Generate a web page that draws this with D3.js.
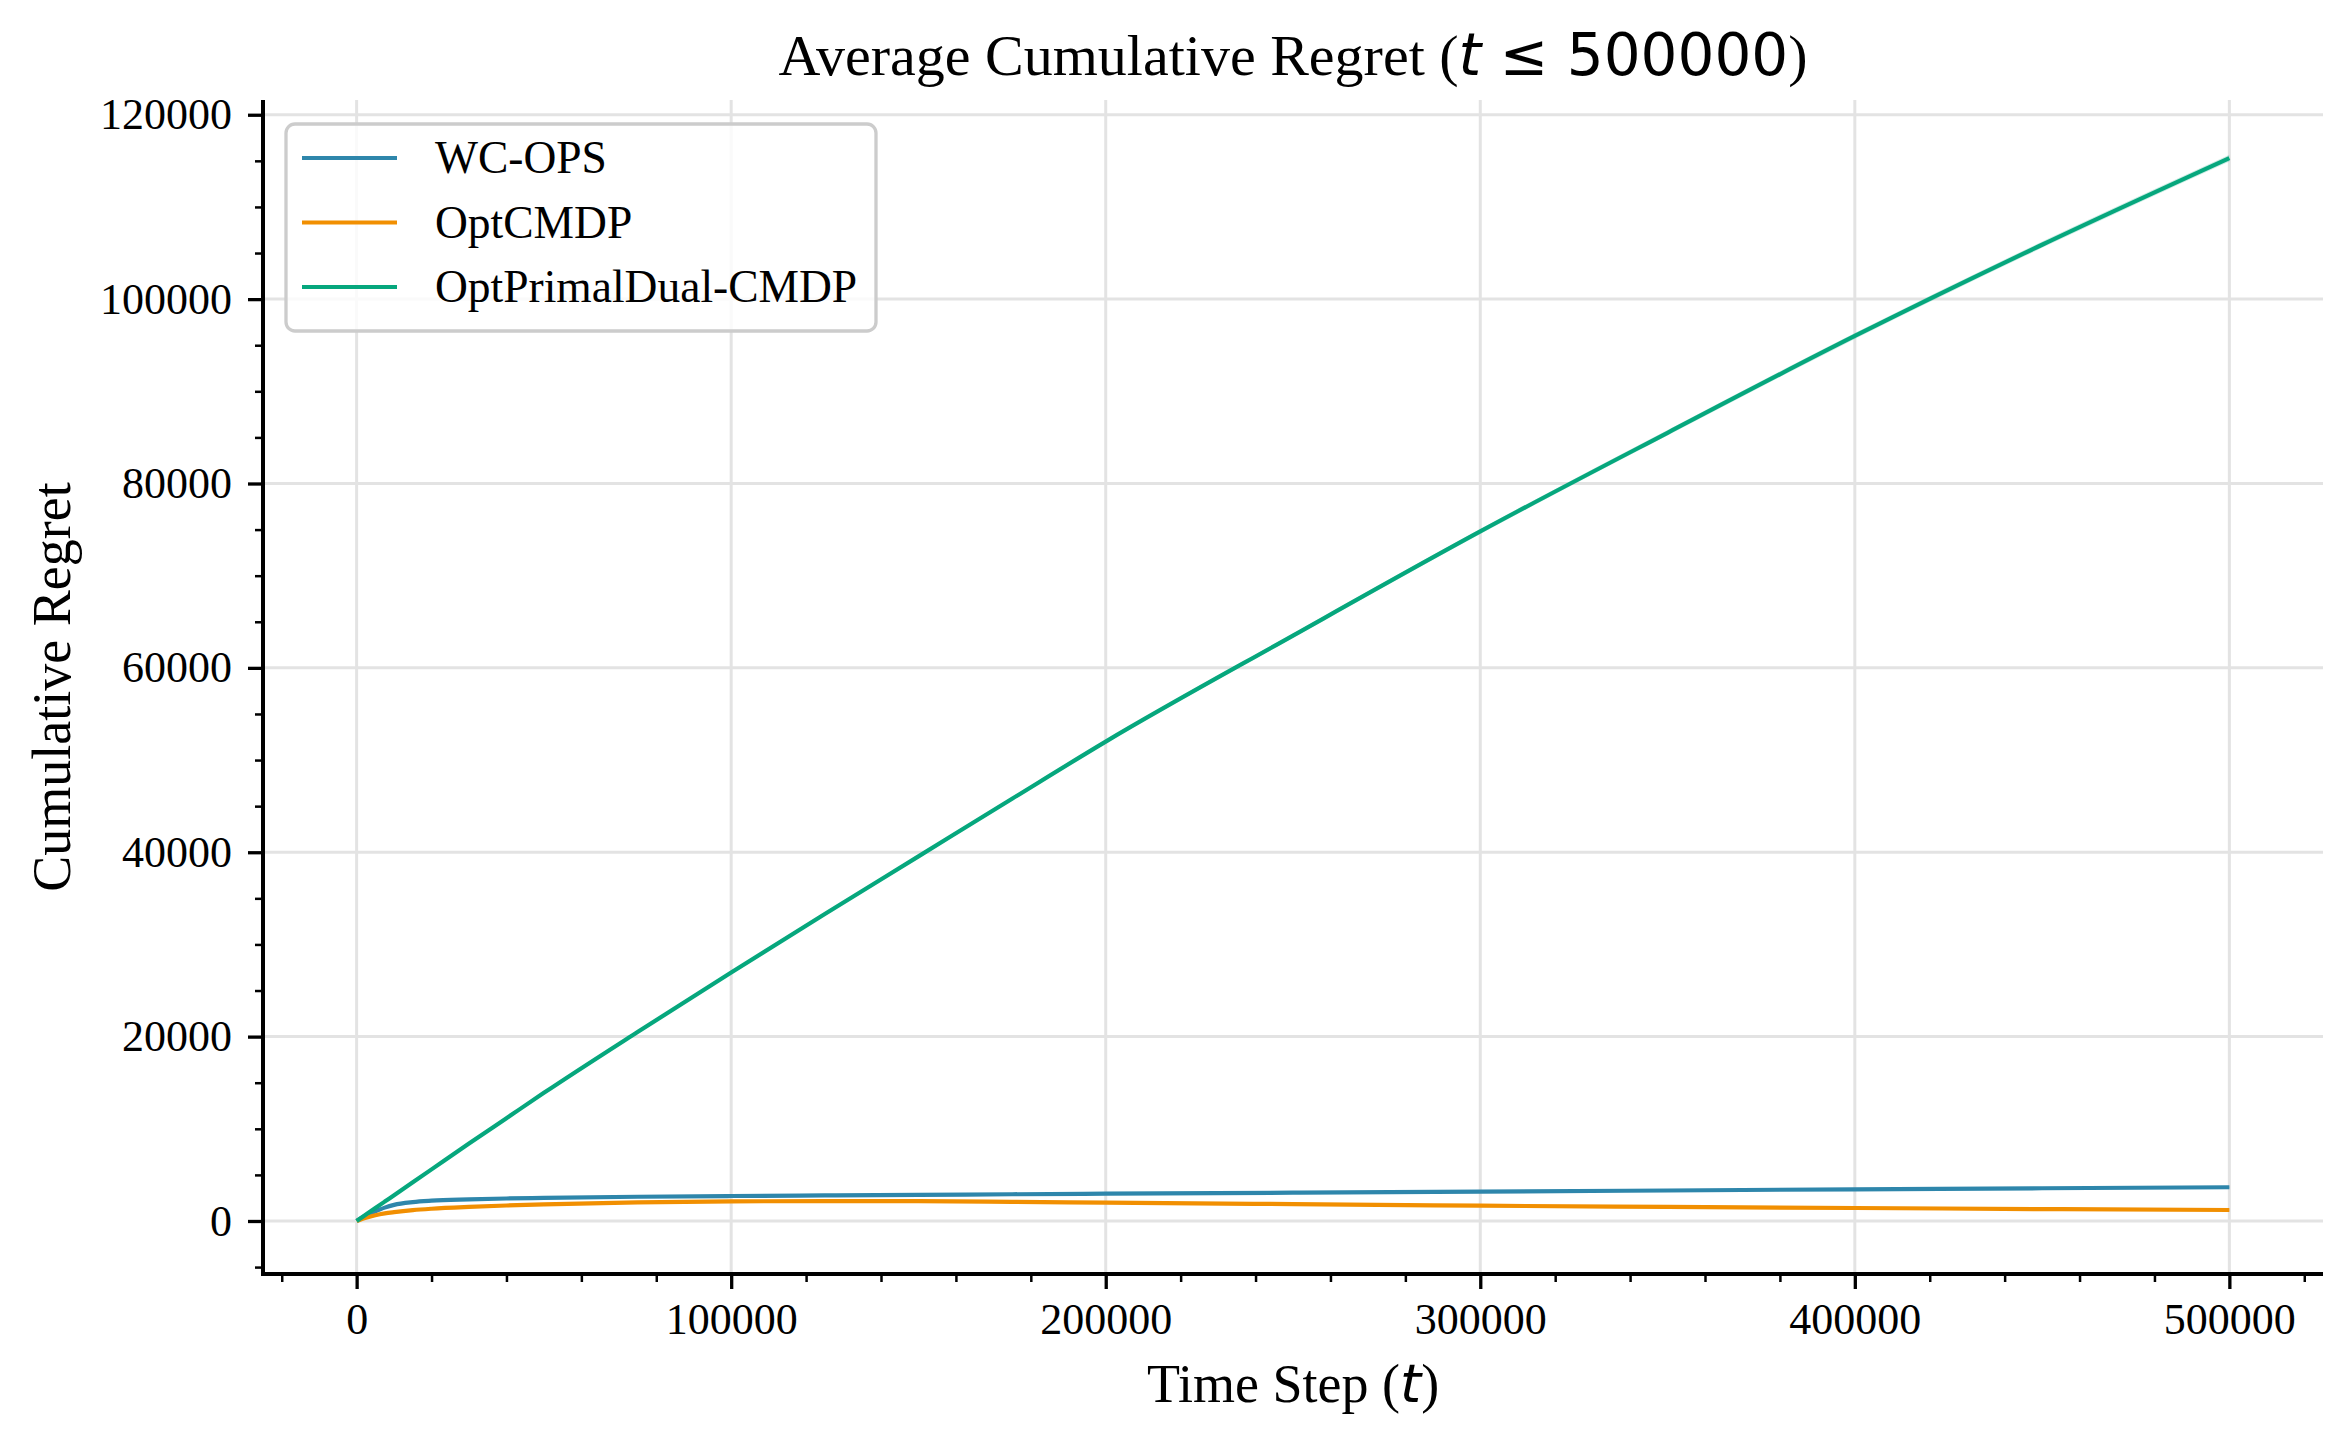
<!DOCTYPE html>
<html>
<head>
<meta charset="utf-8">
<script src="https://cdn.jsdelivr.net/npm/d3@7"></script>
<style>
  body { margin: 0; background: #fff; }
  svg { display: block; }
</style>
</head>
<body>
<svg id="chart" width="2352" height="1446"></svg>
<script>
// time steps shared by every series
const steps = [0, 2500, 5000, 7500, 10000, 15000, 20000, 30000, 40000, 50000, 75000,
  100000, 125000, 150000, 175000, 200000, 250000, 300000, 350000, 400000, 450000, 500000];

// mean cumulative regret
const wcops = [0, 600, 1050, 1450, 1750, 2050, 2200, 2340, 2440, 2510, 2630,
  2710, 2770, 2830, 2900, 2960, 3070, 3180, 3310, 3440, 3550, 3660];
const optcmdp = [0, 350, 620, 820, 960, 1180, 1330, 1530, 1680, 1800, 2020,
  2130, 2160, 2150, 2080, 1990, 1830, 1660, 1530, 1410, 1290, 1190];
const primaldual = [0, 700, 1400, 2100, 2800, 4200, 5600, 8400, 11150, 13900, 20500,
  26950, 33300, 39550, 45800, 52000, 63500, 74800, 85500, 96000, 105900, 115300];

// half width of the shaded band
const wcopsBand = [0, 20, 30, 40, 40, 50, 50, 50, 50, 50, 50, 50, 50, 50, 50, 50, 60, 60, 60, 60, 60, 70];
const optcmdpBand = [0, 20, 30, 40, 40, 50, 50, 50, 50, 50, 50, 50, 50, 50, 50, 50, 60, 60, 60, 60, 60, 70];
const primaldualBand = [0, 10, 20, 30, 40, 50, 60, 80, 100, 110, 130, 150, 170, 190, 200, 210, 240, 270, 300, 320, 340, 360];

const names = ["WC-OPS", "OptCMDP", "OptPrimalDual-CMDP"];
const colors = ["#2E86AB", "#F18F01", "#06A77D"];

const xTicks = [0, 100000, 200000, 300000, 400000, 500000];
const yTicks = [0, 20000, 40000, 60000, 80000, 100000, 120000];

const series = [
  { name: names[0], color: colors[0], mean: wcops, band: wcopsBand },
  { name: names[1], color: colors[1], mean: optcmdp, band: optcmdpBand },
  { name: names[2], color: colors[2], mean: primaldual, band: primaldualBand }
];

const svg = d3.select("#chart");
const pLeft = 263, pRight = 2323, pTop = 100, pBottom = 1274;
const serif = "'Liberation Serif', 'Times New Roman', serif";

const x = d3.scaleLinear().domain([-25000, 525000]).range([pLeft, pRight]);
const y = d3.scaleLinear().domain([-5750, 121600]).range([pBottom, pTop]);

// grid
const grid = svg.append("g").attr("stroke", "#e3e3e3").attr("stroke-width", 3);
xTicks.forEach(t => grid.append("line")
  .attr("x1", x(t)).attr("x2", x(t)).attr("y1", pTop).attr("y2", pBottom));
yTicks.forEach(t => grid.append("line")
  .attr("x1", pLeft).attr("x2", pRight).attr("y1", y(t)).attr("y2", y(t)));

// bands and lines
series.forEach(s => {
  const pts = steps.map((t, i) => ({ t: t, m: s.mean[i], b: s.band[i] }));
  svg.append("path")
    .datum(pts)
    .attr("fill", s.color)
    .attr("fill-opacity", 0.2)
    .attr("d", d3.area().curve(d3.curveMonotoneX)
      .x(d => x(d.t)).y0(d => y(d.m - d.b)).y1(d => y(d.m + d.b)));
  svg.append("path")
    .datum(pts)
    .attr("fill", "none")
    .attr("stroke", s.color)
    .attr("stroke-width", 4.2)
    .attr("d", d3.line().curve(d3.curveMonotoneX).x(d => x(d.t)).y(d => y(d.m)));
});

// axes
const xAxis = svg.append("g").attr("transform", `translate(0,${pBottom})`)
  .call(d3.axisBottom(x).tickValues(xTicks).tickFormat(d3.format("d")).tickSize(15).tickPadding(14));
const xMinor = svg.append("g").attr("transform", `translate(0,${pBottom})`)
  .call(d3.axisBottom(x).tickValues(d3.range(-20000, 525000, 20000).filter(v => v % 100000 !== 0))
    .tickFormat("").tickSize(8));
const yAxis = svg.append("g").attr("transform", `translate(${pLeft},0)`)
  .call(d3.axisLeft(y).tickValues(yTicks).tickFormat(d3.format("d")).tickSize(15).tickPadding(16));
const yMinor = svg.append("g").attr("transform", `translate(${pLeft},0)`)
  .call(d3.axisLeft(y).tickValues(d3.range(-5000, 121000, 5000).filter(v => v % 20000 !== 0))
    .tickFormat("").tickSize(8));

[xAxis, xMinor, yAxis, yMinor].forEach(g => g.select(".domain").remove());
[xAxis, yAxis].forEach(g => g.selectAll(".tick line").attr("stroke", "#000").attr("stroke-width", 3.3));
[xMinor, yMinor].forEach(g => g.selectAll(".tick line").attr("stroke", "#000").attr("stroke-width", 2.5));
[xAxis, yAxis].forEach(g => g.selectAll(".tick text")
  .attr("font-family", serif).attr("font-size", 44).attr("fill", "#000"));

// spines
svg.append("line").attr("x1", pLeft).attr("x2", pLeft).attr("y1", pTop).attr("y2", pBottom + 2)
  .attr("stroke", "#000").attr("stroke-width", 4);
svg.append("line").attr("x1", pLeft - 2).attr("x2", pRight).attr("y1", pBottom).attr("y2", pBottom)
  .attr("stroke", "#000").attr("stroke-width", 4);

// title
const title = svg.append("text").attr("x", (pLeft + pRight) / 2).attr("y", 75)
  .attr("text-anchor", "middle").attr("font-size", 58).attr("font-family", serif);
title.append("tspan").text("Average Cumulative Regret (");
title.append("tspan").attr("font-family", "'DejaVu Sans'").attr("font-style", "italic").text("t");
title.append("tspan").attr("font-family", "'DejaVu Sans'").text(" ≤ 500000");
title.append("tspan").text(")");

// axis labels
const xl = svg.append("text").attr("x", (pLeft + pRight) / 2).attr("y", 1402)
  .attr("text-anchor", "middle").attr("font-size", 54).attr("font-family", serif);
xl.append("tspan").text("Time Step (");
xl.append("tspan").attr("font-family", "'DejaVu Sans'").attr("font-style", "italic").text("t");
xl.append("tspan").text(")");

svg.append("text")
  .attr("transform", `translate(70,${(pTop + pBottom) / 2}) rotate(-90)`)
  .attr("text-anchor", "middle").attr("font-size", 54).attr("font-family", serif)
  .text("Cumulative Regret");

// legend
const lg = svg.append("g");
lg.append("rect").attr("x", 286).attr("y", 124).attr("width", 590).attr("height", 207)
  .attr("rx", 9).attr("fill", "#fff").attr("fill-opacity", 0.8)
  .attr("stroke", "#cccccc").attr("stroke-width", 3.3);
series.forEach((s, i) => {
  const ly = 158 + i * 64.5;
  lg.append("line").attr("x1", 302).attr("x2", 397).attr("y1", ly).attr("y2", ly)
    .attr("stroke", s.color).attr("stroke-width", 4.2);
  lg.append("text").attr("x", 435).attr("y", ly + 15)
    .attr("font-family", serif).attr("font-size", 45.5).text(s.name);
});
</script>
</body>
</html>
